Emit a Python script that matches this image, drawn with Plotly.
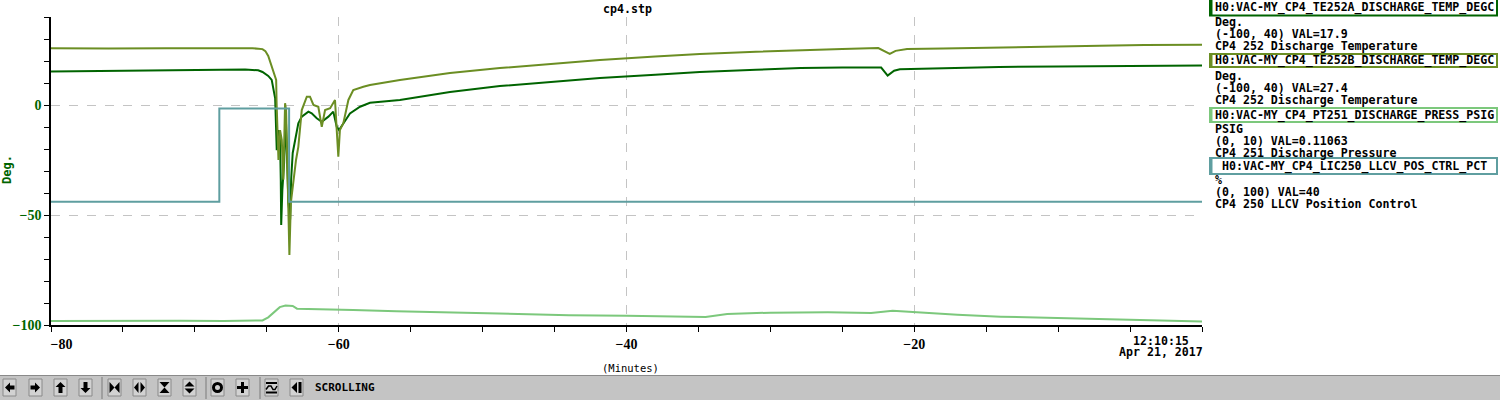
import plotly.graph_objects as go

# ---------------- data (minutes relative to 12:10:15) ----------------
te252a_t = [-80, -78.5, -77.8, -75, -72, -69, -66.5, -65.6, -65.3, -64.9, -64.66, -64.42, -64.35, -64.31,
            -64.19, -64.08, -64.03, -64.0, -63.92, -63.8, -63.68, -63.61, -63.5, -63.38, -63.31, -63.2,
            -63.04, -62.81, -62.57, -62.11, -61.88, -61.53, -61.18, -60.72, -60.38, -60.14, -59.98, -59.68,
            -59.22, -58.52, -57.83, -55.75, -52.27, -48.8, -45, -41.85, -38, -34.9, -31, -27.9, -25, -22.3,
            -21.85, -21.4, -21.0, -18, -14.1, -10, -7.1, -4, 0]
te252a_v = [15.2, 15.3, 15.6, 15.7, 15.9, 16.0, 16.1, 15.8, 15.0, 13.2, 11.4, 3.0, -15.0, -20.5,
            -11.4, -15.9, -34.0, -54.5, -38.6, -26.4, -5.0, -19.0, -44.5, -52.0, -34.0, -21.8,
            -15.9, -8.3, -5.3, -3.0, -3.8, -6.0, -7.6, -5.3, -3.0, -9.9, -11.4, -8.3,
            -3.8, -0.8, 1.0, 2.3, 5.9, 8.6, 10.6, 12.3, 13.8, 15.0, 16.0, 16.8, 17.0, 17.0,
            13.4, 15.6, 16.2, 16.8, 17.3, 17.5, 17.7, 17.9, 17.9]

te252b_t = [-80, -78, -76, -72, -68, -66, -65.3, -65.1, -64.9, -64.7, -64.5, -64.35, -64.32, -64.28,
            -64.19, -64.08, -63.96, -63.85, -63.73, -63.66, -63.59, -63.43, -63.33, -63.15, -62.97,
            -62.81, -62.57, -62.22, -62.0, -61.76, -61.42, -61.18, -60.95, -60.6, -60.26, -60.14,
            -60.03, -59.92, -59.68, -59.33, -58.99, -58.29, -57.83, -55.75, -52.27, -48.8, -45, -41.85,
            -38, -34.9, -31, -27.9, -25, -22.5, -21.7, -21.3, -20.5, -18, -14.1, -10, -7.1, -4, 0]
te252b_v = [25.8, 25.9, 25.7, 25.8, 25.9, 25.8, 25.4, 24.5, 22.3, 18.2, 13.6, 11.4, 0.9, -10.0,
            -25.0, -11.4, -15.9, -34.0, 0.8, -2.3, -26.4, -68.2, -44.5, -34.0, -25.0,
            -19.0, -2.3, 3.8, 3.8, 0.0, -0.8, -9.9, -2.3, -1.5, 2.3, -11.4,
            -23.5, -11.4, -8.3, 2.3, 6.8, 8.3, 9.1, 11.4, 14.5, 16.8, 18.8, 20.5,
            22.0, 23.2, 24.2, 25.0, 25.5, 25.9, 23.2, 24.6, 25.4, 25.7, 26.0, 26.6, 26.9, 27.3, 27.4]

pt251_t = [-80, -77, -74, -71, -68, -66, -65.3, -64.9, -64.5, -64.1, -63.7, -63.2, -62.9, -61.0,
           -59.0, -56.0, -52.0, -48.0, -44.0, -40.0, -36.0, -34.5, -33.0, -30.0, -26.0, -23.0,
           -21.5, -20.0, -17.0, -14.0, -10.0, -5.0, 0]
pt251_v = [0.13, 0.14, 0.13, 0.14, 0.13, 0.14, 0.15, 0.25, 0.42, 0.58, 0.63, 0.62, 0.53, 0.52,
           0.49, 0.45, 0.40, 0.35, 0.32, 0.30, 0.28, 0.26, 0.36, 0.40, 0.41, 0.39,
           0.46, 0.41, 0.33, 0.27, 0.22, 0.17, 0.11063]

lic250_t = [-80, -68.3, -63.45, 0]
lic250_v = [40, 70.3, 40, 40]

names = ["H0:VAC-MY_CP4_TE252A_DISCHARGE_TEMP_DEGC",
         "H0:VAC-MY_CP4_TE252B_DISCHARGE_TEMP_DEGC",
         "H0:VAC-MY_CP4_PT251_DISCHARGE_PRESS_PSIG",
         "H0:VAC-MY_CP4_LIC250_LLCV_POS_CTRL_PCT"]
units = ["Deg.", "Deg.", "PSIG", "%"]
ranges = ["(-100, 40)", "(-100, 40)", "(0, 10)", "(0, 100)"]
cur_vals = ["17.9", "27.4", "0.11063", "40"]
descs = ["CP4 252 Discharge Temperature", "CP4 252 Discharge Temperature",
         "CP4 251 Discharge Pressure", "CP4 250 LLCV Position Control"]

x_major = [-80, -60, -40, -20, 0]
x_labels = ["\u00a0\u00a0\u00a0\u00a0\u00a0\u00a0\u221280", "\u221260", "\u221240", "\u221220", ""]
x_minor = [-75, -70, -65, -55, -50, -45, -35, -30, -25, -15, -10, -5]
y_major = [-100, -50, 0]
y_labels = ["\u2212100", "\u221250", "0"]
y_minor = [-90, -80, -70, -60, -40, -30, -20, -10, 10, 20, 30, 40]

COLORS = ["#006400", "#6b8e23", "#7cc87c", "#5f9ea0"]

# ---------------- geometry helpers ----------------
W, H = 1500, 400
ML, MR, MT, MB = 51, 298, 17, 75
PW = W - ML - MR
PH = H - MT - MB


def px(x):
    return (x - ML) / PW


def py(y):
    return (H - MB - y) / PH


fig = go.Figure()
series = [(te252a_t, te252a_v, "y"), (te252b_t, te252b_v, "y"),
          (pt251_t, pt251_v, "y2"), (lic250_t, lic250_v, "y3")]
for i, (t, v, ya) in enumerate(series):
    fig.add_trace(go.Scatter(x=t, y=v, mode="lines", yaxis=ya, hoverinfo="skip",
                             line=dict(color=COLORS[i], width=2,
                                       shape="hv" if i == 3 else "linear")))

shapes = []
ann = []


def rect(x0, y0, x1, y1, fill, line=None, lw=0):
    shapes.append(dict(type="rect", xref="paper", yref="paper", x0=px(x0), x1=px(x1),
                       y0=py(y1), y1=py(y0), fillcolor=fill,
                       line=dict(color=line or fill, width=lw)))


def poly(pts, ox, oy, color="black"):
    path = "M " + " L ".join(f"{px(ox + a)},{py(oy + b)}" for a, b in pts) + " Z"
    shapes.append(dict(type="path", xref="paper", yref="paper", path=path,
                       fillcolor=color, line=dict(width=0)))


def text(x, y, s, size=11.6, color="#000000", xanchor="center", family="DejaVu Sans Mono",
         bold=True, angle=0):
    ann.append(dict(x=px(x), y=py(y), xref="paper", yref="paper", text=s, showarrow=False,
                    xanchor=xanchor, yanchor="middle", textangle=angle,
                    font=dict(family=family, size=size, color=color,
                              weight="bold" if bold else "normal")))


# title, axis label texts
text(627, 9, "cp4.stp")
text(7, 170, "Deg.", color=COLORS[0], angle=-90, size=12)
text(630, 368, "(Minutes)", size=10.5, bold=False, color="#000000")
text(1161, 341, "12:10:15")
text(1161, 352, "Apr 21, 2017")

# legend panel
box_tops = [-1, 54, 108, 158]
box_bots = [15.5, 67, 122, 174]
first_line = [21.5, 75.5, 128.5, 180]
for i in range(4):
    rect(1210, box_tops[i], 1497, box_bots[i], "white", COLORS[i], 2)
    rect(1209, box_tops[i], 1212.5, box_bots[i], COLORS[i])
    text(1354, (box_tops[i] + box_bots[i]) / 2, names[i])
    lines = [units[i], f"{ranges[i]} VAL={cur_vals[i]}", descs[i]]
    for k, s in enumerate(lines):
        text(1213, first_line[i] + 12 * k, s, xanchor="left")

# toolbar
rect(-2, 375, 1502, 402, "#c4c4c4")
shapes.append(dict(type="line", xref="paper", yref="paper", x0=px(0), x1=px(1500),
                   y0=py(375.5), y1=py(375.5), line=dict(color="#8a8a8a", width=1)))
for sx in [102, 206, 260]:
    shapes.append(dict(type="line", xref="paper", yref="paper", x0=px(sx), x1=px(sx),
                       y0=py(377), y1=py(399), line=dict(color="#7a7a7a", width=1)))
bx = [3, 29, 54, 79, 108, 133, 158, 183, 211, 236, 265, 290]
BY = 379
icons = [
    [[(2, 8.5), (7, 3.5), (7, 6.5), (11.5, 6.5), (11.5, 10.5), (7, 10.5), (7, 13.5)]],
    [[(11, 8.5), (6, 3.5), (6, 6.5), (1.5, 6.5), (1.5, 10.5), (6, 10.5), (6, 13.5)]],
    [[(6.5, 3), (11.5, 8), (8.5, 8), (8.5, 14), (4.5, 14), (4.5, 8), (1.5, 8)]],
    [[(6.5, 14), (11.5, 9), (8.5, 9), (8.5, 3), (4.5, 3), (4.5, 9), (1.5, 9)]],
    [[(1.5, 3), (6.5, 8.5), (1.5, 14)], [(11.5, 3), (6.5, 8.5), (11.5, 14)]],
    [[(5.5, 3), (1, 8.5), (5.5, 14)], [(7.5, 3), (12, 8.5), (7.5, 14)]],
    [[(1.5, 3), (11.5, 3), (6.5, 8.5)], [(1.5, 14), (11.5, 14), (6.5, 8.5)]],
    [[(6.5, 2.5), (11.5, 7.5), (1.5, 7.5)], [(1.5, 9.5), (11.5, 9.5), (6.5, 14.5)]],
    None,
    [[(5, 3), (8, 3), (8, 7), (12, 7), (12, 10), (8, 10), (8, 14), (5, 14), (5, 10), (1, 10), (1, 7), (5, 7)]],
    [[(1, 3), (12, 3), (12, 5), (1, 5)], [(1, 12.5), (12, 12.5), (12, 14.5), (1, 14.5)]],
    [[(1.5, 8.5), (7, 3), (7, 14)], [(8.5, 3), (11.5, 3), (11.5, 14), (8.5, 14)]],
]
for j, x0 in enumerate(bx):
    rect(x0, BY, x0 + 13, BY + 17, "#d2d2d2", "#8a8a8a", 1)
    if icons[j]:
        for p in icons[j]:
            poly(p, x0, BY)
    if j == 8:
        shapes.append(dict(type="circle", xref="paper", yref="paper",
                           x0=px(x0 + 2.5), x1=px(x0 + 10.5), y0=py(BY + 12.5), y1=py(BY + 4.5),
                           line=dict(color="black", width=3)))
    if j == 10:
        wave = [(1, 10.5), (3.5, 7), (6, 7), (8, 10.5), (10, 10.5), (12, 7)]
        shapes.append(dict(type="path", xref="paper", yref="paper",
                           path="M " + " L ".join(f"{px(x0 + a)},{py(BY + b)}" for a, b in wave),
                           line=dict(color="black", width=1.5)))
text(345, 387, "SCROLLING", size=11)

axis_common = dict(ticks="outside", ticklen=5, tickwidth=1, tickcolor="black",
                   showline=True, linecolor="black", linewidth=1.5, zeroline=False,
                   showgrid=True, gridcolor="#c4c4c4", griddash="dash", gridwidth=1,
                   fixedrange=True)

fig.update_layout(
    width=W, height=H, margin=dict(l=ML, r=MR, t=MT, b=MB, autoexpand=False),
    paper_bgcolor="white", plot_bgcolor="white", showlegend=False,
    xaxis=dict(range=[-80, 0], tickmode="array", tickvals=x_major, ticktext=x_labels,
               tickfont=dict(family="Liberation Serif", size=14, color="black", weight="bold"),
               minor=dict(tickmode="array", tickvals=x_minor, ticks="outside", ticklen=5,
                          tickcolor="black", showgrid=False),
               **axis_common),
    yaxis=dict(range=[-100, 40], tickmode="array", tickvals=y_major, ticktext=y_labels,
               tickfont=dict(family="Liberation Serif", size=14, color=COLORS[0], weight="bold"),
               minor=dict(tickmode="array", tickvals=y_minor, ticks="outside", ticklen=5,
                          tickcolor="black", showgrid=False),
               **axis_common),
    yaxis2=dict(range=[0, 10], overlaying="y", visible=False, fixedrange=True),
    yaxis3=dict(range=[0, 100], overlaying="y", visible=False, fixedrange=True),
    shapes=shapes, annotations=ann,
)

fig.write_html("out.html", config={"displayModeBar": False},
               post_script="document.body.style.margin='0';document.body.style.overflow='hidden';")
